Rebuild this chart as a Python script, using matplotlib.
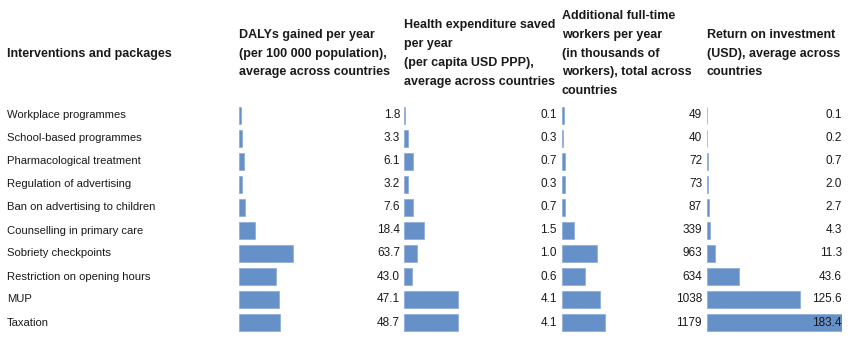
import numpy as np
import matplotlib.pyplot as plt

plt.rcParams['font.family'] = ['Liberation Sans', 'DejaVu Sans']

interventions = ['Workplace programmes', 'School-based programmes', 'Pharmacological treatment',
                 'Regulation of advertising', 'Ban on advertising to children', 'Counselling in primary care',
                 'Sobriety checkpoints', 'Restriction on opening hours', 'MUP', 'Taxation']
dalys = [1.8, 3.3, 6.1, 3.2, 7.6, 18.4, 63.7, 43.0, 47.1, 48.7]
health_exp = [0.1, 0.3, 0.7, 0.3, 0.7, 1.5, 1.0, 0.6, 4.1, 4.1]
workers = [49, 40, 72, 73, 87, 339, 963, 634, 1038, 1179]
roi = [0.1, 0.2, 0.7, 2.0, 2.7, 4.3, 11.3, 43.6, 125.6, 183.4]

headers = ['DALYs gained per year\n(per 100 000 population),\naverage across countries',
           'Health expenditure saved\nper year\n(per capita USD PPP),\naverage across countries',
           'Additional full-time\nworkers per year\n(in thousands of\nworkers), total across\ncountries',
           'Return on investment\n(USD), average across\ncountries']

W, H = 854, 339
fig = plt.figure(figsize=(W / 100, H / 100), dpi=100)
bar_color = '#6690c8'
text_color = '#1a1a1a'

# column layout in pixels: (left, right, px per unit, label format)
cols = [
    (239, 400, 0.85, dalys, '{:.1f}'),
    (404, 557, 13.2, health_exp, '{:.1f}'),
    (562, 702, 0.0365, workers, '{:d}'),
    (707, 842, 0.737, roi, '{:.1f}'),
]
top_px, bot_px = 104, 334
n = len(interventions)
y = np.arange(n)

for (l, r, scale, vals, fmt), head in zip(cols, headers):
    ax = fig.add_axes([l / W, (H - bot_px) / H, (r - l) / W, (bot_px - top_px) / H])
    ax.barh(y, vals, height=0.75, color=bar_color, edgecolor='#8aaad6', linewidth=0.5)
    ax.set_xlim(0, (r - l) / scale)
    ax.set_ylim(n - 0.5, -0.5)
    ax.axis('off')
    for i, v in enumerate(vals):
        ax.text(1.0, i, fmt.format(v), transform=ax.get_yaxis_transform(),
                ha='right', va='center', fontsize=8.5, color=text_color)
    fig.text(l / W, 1 - 53.5 / H, head, ha='left', va='center', fontsize=9,
             fontweight='bold', color=text_color, linespacing=1.75)

# row labels
for i, name in enumerate(interventions):
    fig.text(7 / W, 1 - (top_px + 11.5 + 23 * i) / H, name, ha='left', va='center',
             fontsize=8.1, color=text_color)
fig.text(7 / W, 1 - 54 / H, 'Interventions and packages', ha='left', va='center',
         fontsize=9, fontweight='bold', color=text_color)

plt.savefig('out.png', dpi=100)
